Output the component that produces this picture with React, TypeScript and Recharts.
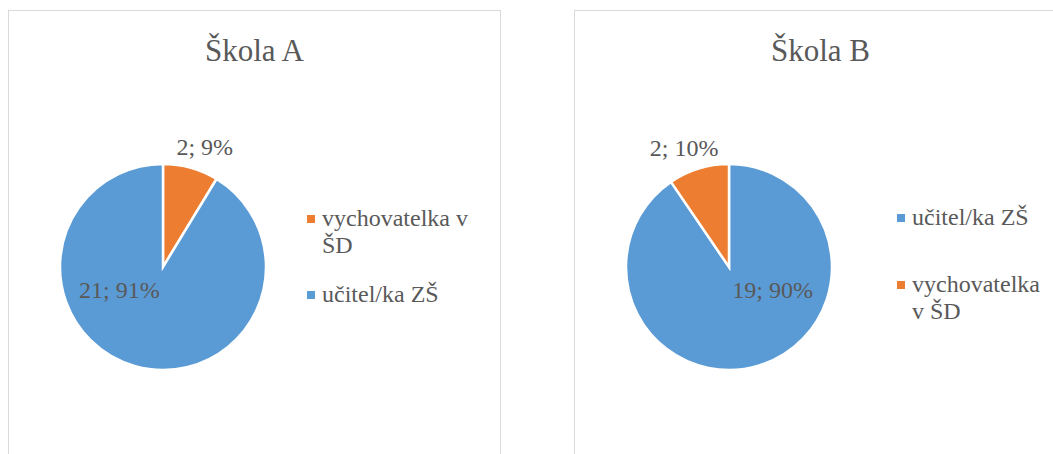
import { PieChart, Pie, Cell, Legend } from 'recharts';

const categoriesA = ['vychovatelka v ŠD', 'učitel/ka ZŠ'];
const valuesA = [2, 21];
const categoriesB = ['učitel/ka ZŠ', 'vychovatelka v ŠD'];
const valuesB = [19, 2];

const colorByCategory: Record<string, string> = {
  'učitel/ka ZŠ': '#5B9BD5',
  'vychovatelka v ŠD': '#ED7D31',
};

const SERIF = "'Times New Roman', 'Liberation Serif', Times, 'DejaVu Serif', serif";
const TEXT = '#595959';
const RAD = Math.PI / 180;

function makeLabel(insideAngle: number) {
  return (props: any) => {
    const { cx, cy, outerRadius, midAngle, percent, value } = props;
    let x: number;
    let y: number;
    if (percent < 0.5) {
      // small slice: label outside, along the slice's middle
      const r = outerRadius + 22;
      const c = Math.cos(midAngle * RAD);
      x = cx + r * c + Math.sign(c) * 8;
      y = cy - r * Math.sin(midAngle * RAD);
    } else {
      const r = outerRadius * 0.48;
      x = cx + r * Math.cos(insideAngle * RAD);
      y = cy - r * Math.sin(insideAngle * RAD);
    }
    return (
      <text
        x={x}
        y={y}
        textAnchor="middle"
        dominantBaseline="central"
        fill={TEXT}
        style={{ fontFamily: SERIF, fontSize: 24 }}
      >
        {`${value}; ${Math.round(percent * 100)}%`}
      </text>
    );
  };
}

interface SchoolPieProps {
  title: string;
  categories: string[];
  values: number[];
  left: number;
  insideAngle: number;
  legendLeft: number;
  legendTop: number;
  legendGap: number;
  legendTextWidth: number;
}

function SchoolPie({
  title,
  categories,
  values,
  left,
  insideAngle,
  legendLeft,
  legendTop,
  legendGap,
  legendTextWidth,
}: SchoolPieProps) {
  const data = categories.map((name, i) => ({ name, value: values[i] }));

  const renderLegend = (props: any) => {
    // keep the order of the data, not the alphabetical one
    const payload = [...(props.payload || [])].sort(
      (a: any, b: any) => categories.indexOf(a.value) - categories.indexOf(b.value)
    );
    return (
      <div style={{ fontFamily: SERIF }}>
        {payload.map((entry: any, i: number) => (
          <div
            key={entry.value}
            style={{ display: 'flex', alignItems: 'flex-start', marginBottom: i < payload.length - 1 ? legendGap : 0 }}
          >
            <div
              style={{
                width: 8,
                height: 8,
                marginTop: 10,
                marginRight: 7,
                flexShrink: 0,
                background: colorByCategory[entry.value],
              }}
            />
            <div style={{ width: legendTextWidth, fontSize: 24, lineHeight: '27px', color: TEXT }}>
              {entry.value}
            </div>
          </div>
        ))}
      </div>
    );
  };

  return (
    <div
      style={{
        position: 'absolute',
        left,
        top: 10,
        width: 491,
        height: 460,
        border: '1px solid #d9d9d9',
        background: '#fff',
      }}
    >
      <PieChart width={491} height={460} margin={{ top: 0, right: 0, bottom: 0, left: 0 }}>
        <Pie
          data={data}
          dataKey="value"
          nameKey="name"
          cx={154}
          cy={256}
          outerRadius={103}
          startAngle={90}
          endAngle={-270}
          stroke="#ffffff"
          strokeWidth={2.5}
          label={makeLabel(insideAngle)}
          labelLine={false}
          isAnimationActive={false}
        >
          {data.map((d) => (
            <Cell key={d.name} fill={colorByCategory[d.name]} />
          ))}
        </Pie>
        <Legend
          layout="vertical"
          content={renderLegend}
          wrapperStyle={{ left: legendLeft, top: legendTop, width: legendTextWidth + 20 }}
        />
      </PieChart>
      <div
        style={{
          position: 'absolute',
          left: 0,
          top: 20,
          width: '100%',
          textAlign: 'center',
          fontFamily: SERIF,
          fontSize: 31,
          lineHeight: '40px',
          color: TEXT,
        }}
      >
        {title}
      </div>
    </div>
  );
}

export default function App() {
  return (
    <div style={{ position: 'absolute', left: 0, top: 0, width: 1053, height: 454, overflow: 'hidden', background: '#fff' }}>
      <SchoolPie
        title="Škola A"
        categories={categoriesA}
        values={valuesA}
        left={8}
        insideAngle={208}
        legendLeft={298}
        legendTop={194}
        legendGap={22}
        legendTextWidth={165}
      />
      <SchoolPie
        title="Škola B"
        categories={categoriesB}
        values={valuesB}
        left={574}
        insideAngle={332}
        legendLeft={322}
        legendTop={193}
        legendGap={40}
        legendTextWidth={135}
      />
    </div>
  );
}
